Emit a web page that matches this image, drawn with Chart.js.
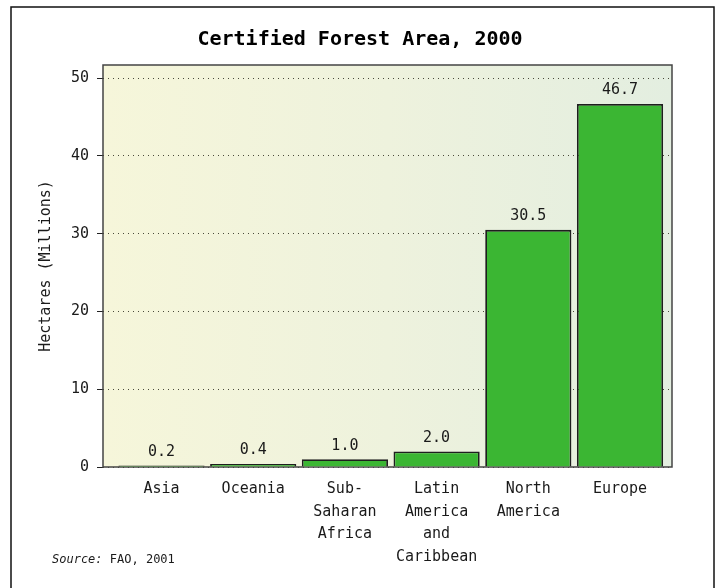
<!DOCTYPE html>
<html>
<head>
<meta charset="utf-8">
<script src="https://cdn.jsdelivr.net/npm/chart.js@4/dist/chart.umd.min.js"></script>
<style>
  html, body { margin: 0; padding: 0; background: #fff; }
  #wrap { width: 720px; height: 588px; }
</style>
</head>
<body>
<div id="wrap"><canvas id="forestChart" width="720" height="588"></canvas></div>
<script>
// Data
const regions = [
    ['Asia'],
    ['Oceania'],
    ['Sub-', 'Saharan', 'Africa'],
    ['Latin', 'America', 'and', 'Caribbean'],
    ['North', 'America'],
    ['Europe']
];
const areaMillionHa = [0.2, 0.4, 1.0, 2.0, 30.5, 46.7];
const yTicks = [0, 10, 20, 30, 40, 50];
const chartTitle = 'Certified Forest Area, 2000';

const FONT = "'DejaVu Sans Mono', monospace";
const TEXT = '#1a1a1a';

// Background gradient, frame, title, value labels and source note
const framePlugin = {
    id: 'frame',
    beforeDraw(chart) {
        const { ctx, chartArea: a } = chart;
        ctx.save();
        ctx.fillStyle = '#ffffff';
        ctx.fillRect(0, 0, chart.width, chart.height);
        ctx.strokeStyle = '#111';
        ctx.lineWidth = 1.5;
        ctx.strokeRect(11, 7, 703, 600);
        const g = ctx.createLinearGradient(a.left, 0, a.right, 0);
        g.addColorStop(0, '#f6f6da');
        g.addColorStop(0.5, '#eef2dd');
        g.addColorStop(1, '#e3eee0');
        ctx.fillStyle = g;
        ctx.fillRect(a.left, a.top, a.right - a.left, a.bottom - a.top);
        // title
        ctx.fillStyle = '#000';
        ctx.font = 'bold 20px ' + FONT;
        ctx.textAlign = 'center';
        ctx.textBaseline = 'middle';
        ctx.fillText(chartTitle, 360, 40);
        ctx.restore();
    },
    beforeDatasetsDraw(chart) {
        const { ctx, chartArea: a } = chart;
        ctx.save();
        ctx.strokeStyle = '#444';
        ctx.lineWidth = 1.5;
        ctx.strokeRect(a.left, a.top, a.right - a.left, a.bottom - a.top);
        ctx.restore();
    },
    afterDatasetsDraw(chart) {
        const { ctx } = chart;
        const meta = chart.getDatasetMeta(0);
        ctx.save();
        ctx.fillStyle = TEXT;
        ctx.font = '15px ' + FONT;
        ctx.textAlign = 'center';
        ctx.textBaseline = 'bottom';
        meta.data.forEach((bar, i) => {
            ctx.fillText(areaMillionHa[i].toFixed(1), bar.x, bar.y - 6);
        });
        // source
        ctx.textAlign = 'left';
        ctx.textBaseline = 'alphabetic';
        ctx.font = 'italic 12px ' + FONT;
        ctx.fillText('Source:', 52, 563);
        const w = ctx.measureText('Source:').width;
        ctx.font = '12px ' + FONT;
        ctx.fillText(' FAO, 2001', 52 + w, 563);
        ctx.restore();
    }
};

const ctx = document.getElementById('forestChart').getContext('2d');
new Chart(ctx, {
    type: 'bar',
    data: {
        datasets: [{
            data: areaMillionHa.map((v, i) => ({ x: i, y: v })),
            backgroundColor: '#3bb633',
            borderColor: '#1e1e1e',
            borderWidth: 1.8,
            barPercentage: 0.94,
            categoryPercentage: 1
        }]
    },
    options: {
        responsive: false,
        animation: false,
        layout: { padding: { top: 65, left: 0, right: 48, bottom: 0 } },
        plugins: {
            legend: { display: false },
            tooltip: { enabled: false },
            title: { display: false }
        },
        scales: {
            x: {
                type: 'linear',
                offset: false,
                min: -0.638,
                max: 5.567,
                grid: { display: false },
                border: { display: false },
                afterFit(scale) { scale.height = 121; },
                ticks: {
                    stepSize: 1,
                    includeBounds: false,
                    autoSkip: false,
                    maxRotation: 0,
                    padding: 3,
                    color: TEXT,
                    font: { family: FONT, size: 15, lineHeight: 1.5 },
                    callback: v => Number.isInteger(v) && regions[v] ? regions[v] : ''
                }
            },
            y: {
                min: 0,
                max: 51.7,
                afterBuildTicks(scale) { scale.ticks = yTicks.map(v => ({ value: v })); },
                afterFit(scale) { scale.width = 103; },
                border: { display: false, dash: [1, 4] },
                grid: {
                    color: '#4a4a3a',
                    tickColor: '#222',
                    tickLength: 6,
                    tickBorderDash: [],
                    lineWidth: 1
                },
                ticks: {
                    padding: 8,
                    color: TEXT,
                    font: { family: FONT, size: 15 }
                },
                title: {
                    display: true,
                    text: 'Hectares (Millions)',
                    color: TEXT,
                    font: { family: FONT, size: 15 },
                    padding: { top: 37, bottom: 0 }
                }
            }
        }
    },
    plugins: [framePlugin]
});
</script>
</body>
</html>
